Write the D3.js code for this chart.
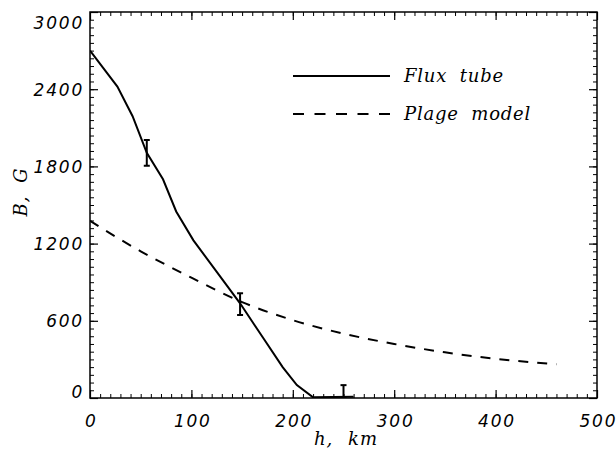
<!DOCTYPE html>
<html lang="en">
<head>
<meta charset="UTF-8">
<title>B vs h</title>
<script src="https://d3js.org/d3.v7.min.js"></script>
<style>
  body { margin: 0; background: #fff; }
  .tick text { font-family: "DejaVu Sans", sans-serif; font-style: italic; font-size: 17px; letter-spacing: 1.8px; fill: #000; }
  .lab { font-family: "DejaVu Serif", serif; font-style: italic; font-size: 18px; fill: #000; }
</style>
</head>
<body>
<svg id="chart" width="616" height="453"></svg>
<script>
// flux tube model (solid)
const fluxH = [0, 27, 42, 56, 72, 85, 102, 125, 148, 171, 190, 204, 220, 260];
const fluxB = [2700, 2420, 2190, 1905, 1700, 1450, 1225, 980, 736, 464, 240, 101, 5, 10];

// plage model (dashed)
const plageH = [0, 25, 50, 75, 100, 150, 200, 250, 300, 350, 400, 460];
const plageB = [1378, 1255, 1140, 1035, 935, 745, 605, 500, 420, 355, 305, 262];

// error bars
const errH  = [56, 148, 250];
const errLo = [1805, 645, 0];
const errHi = [2005, 814, 100];

const xTicks = [0, 100, 200, 300, 400, 500];
const yTicks = [0, 600, 1200, 1800, 2400, 3000];

const legendNames = ["Flux tube", "Plage model"];

const svg = d3.select("#chart");
const L = 90, R = 597, T = 12, B = 398;

const x = d3.scaleLinear().domain([0, 500]).range([L, R]);
const y = d3.scaleLinear().domain([0, 3000]).range([B, T]);

// axes: major + minor ticks on all four sides, pointing inward
function addAxis(axisFn, scale, tf, majors, minors, labels) {
  svg.append("g").attr("transform", tf)
    .call(axisFn(scale).tickValues(minors).tickSize(-4).tickFormat(""))
    .call(g => g.select(".domain").remove());
  const g = svg.append("g").attr("transform", tf)
    .call(axisFn(scale).tickValues(majors).tickSize(-8)
      .tickFormat(labels ? d3.format("d") : ""));
  g.select(".domain").remove();
  g.selectAll("line").attr("stroke-width", 1.2);
  return g;
}

const xb = addAxis(d3.axisBottom, x, `translate(0,${B})`, xTicks, d3.range(0, 501, 10), true);
xb.selectAll("text").attr("y", 17).attr("dx", "0.9px");
addAxis(d3.axisTop, x, `translate(0,${T})`, xTicks, d3.range(0, 501, 10), false);

const yl = addAxis(d3.axisLeft, y, `translate(${L},0)`, yTicks, d3.range(0, 3001, 60), true);
yl.selectAll("text").attr("x", -6)
  .attr("dy", d => d === 3000 ? "0.95em" : d === 0 ? "-0.05em" : "0.36em");
addAxis(d3.axisRight, y, `translate(${R},0)`, yTicks, d3.range(0, 3001, 60), false);

svg.append("rect").attr("x", L).attr("y", T).attr("width", R - L).attr("height", B - T)
  .attr("fill", "none").attr("stroke", "#000").attr("stroke-width", 1.5);

svg.append("clipPath").attr("id", "clip").append("rect")
  .attr("x", L).attr("y", T).attr("width", R - L).attr("height", B - T);

const plot = svg.append("g").attr("clip-path", "url(#clip)");

const flux = fluxH.map((h, i) => [h, fluxB[i]]);
const plage = plageH.map((h, i) => [h, plageB[i]]);

plot.append("path").datum(flux)
  .attr("d", d3.line().x(d => x(d[0])).y(d => y(d[1])))
  .attr("fill", "none").attr("stroke", "#000").attr("stroke-width", 2);

plot.append("path").datum(plage)
  .attr("d", d3.line().curve(d3.curveMonotoneX).x(d => x(d[0])).y(d => y(d[1])))
  .attr("fill", "none").attr("stroke", "#000").attr("stroke-width", 2)
  .attr("stroke-dasharray", "10,9");

// error bars
const eb = plot.selectAll(".err").data(errH.map((h, i) => ({ h, lo: errLo[i], hi: errHi[i] })))
  .enter().append("g");
eb.append("line").attr("x1", d => x(d.h)).attr("x2", d => x(d.h))
  .attr("y1", d => y(d.lo)).attr("y2", d => y(d.hi)).attr("stroke", "#000").attr("stroke-width", 2);
["lo", "hi"].forEach(k => {
  eb.append("line").attr("x1", d => x(d.h) - 3).attr("x2", d => x(d.h) + 3)
    .attr("y1", d => y(d[k])).attr("y2", d => y(d[k])).attr("stroke", "#000").attr("stroke-width", 2);
});

// legend
const lg = svg.append("g");
legendNames.forEach((name, i) => {
  const yy = 76 + i * 38;
  lg.append("line").attr("x1", 293).attr("x2", 390).attr("y1", yy).attr("y2", yy)
    .attr("stroke", "#000").attr("stroke-width", 2)
    .attr("stroke-dasharray", i === 1 ? "11,10.5" : null);
  lg.append("text").attr("class", "lab").attr("x", 404).attr("y", yy + 6)
    .attr("letter-spacing", "0.8px").attr("word-spacing", "6px").text(name);
});

// axis titles
svg.append("text").attr("class", "lab").attr("x", 346).attr("y", 445)
  .attr("text-anchor", "middle").attr("letter-spacing", "1px").attr("word-spacing", "8px").text("h, km");
svg.append("text").attr("class", "lab")
  .attr("transform", "translate(27,192) rotate(-90)")
  .attr("text-anchor", "middle").attr("letter-spacing", "1px").attr("word-spacing", "6px").text("B, G");
</script>
</body>
</html>
